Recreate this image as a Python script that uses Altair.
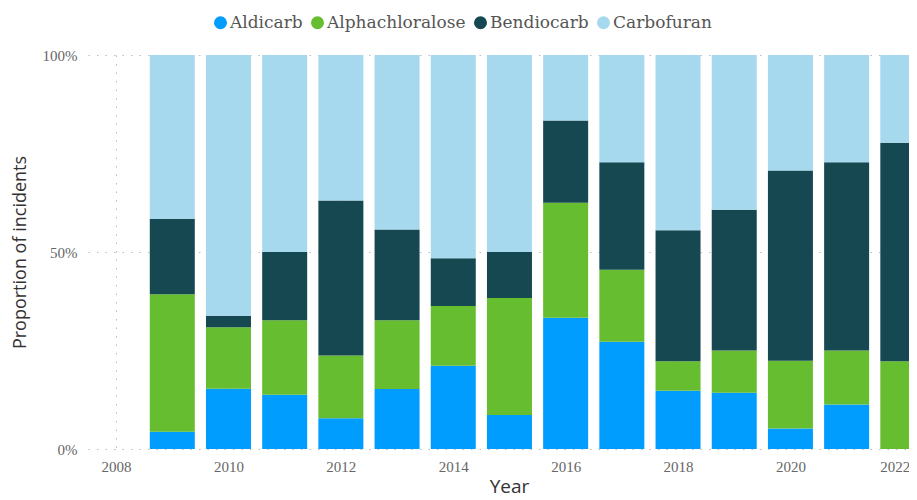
import altair as alt
import pandas as pd

years = list(range(2009, 2023))
compounds = ["Aldicarb", "Alphachloralose", "Bendiocarb", "Carbofuran"]
colors = ["#009DFF", "#66BD30", "#164852", "#A6D9ED"]

aldicarb = [4.4, 15.3, 13.8, 7.8, 15.2, 21.1, 8.6, 33.3, 27.2, 14.8, 14.3, 5.2, 11.3, 0.0]
alphachloralose = [34.9, 15.6, 18.9, 15.9, 17.5, 15.2, 29.7, 29.2, 18.3, 7.5, 10.7, 17.2, 13.7, 22.3]
bendiocarb = [19.1, 2.9, 17.3, 39.4, 23.0, 12.1, 11.7, 20.9, 27.3, 33.2, 35.7, 48.3, 47.8, 55.4]
carbofuran = [41.6, 66.2, 50.0, 36.9, 44.3, 51.6, 50.0, 16.6, 27.2, 44.5, 39.3, 29.3, 27.2, 22.3]

x_ticks = [2008, 2010, 2012, 2014, 2016, 2018, 2020, 2022]

rows = []
for name, vals in zip(compounds, [aldicarb, alphachloralose, bendiocarb, carbofuran]):
    for y, v in zip(years, vals):
        rows.append({"Year": y, "Compound": name, "Value": v})
df = pd.DataFrame(rows)

grid_dash = [1.5, 7]

chart = alt.Chart(df).mark_bar(size=45, clip=True).encode(
    x=alt.X("Year:Q",
            scale=alt.Scale(domain=[2007.5, 2022.11], nice=False, zero=False, padding=0),
            axis=alt.Axis(values=x_ticks, format="d", title="Year", grid=True,
                          gridDash=grid_dash, gridColor="#bbbbbb", domain=False, ticks=False,
                          labelFont="Liberation Serif", labelFontSize=15, labelColor="#666666",
                          labelPadding=10, labelOverlap=False, labelBound=False,
                          labelFlush=False,
                          labelOffset={"condition": {"test": "datum.value == 2022", "value": -8},
                                       "value": 0},
                          titleFont="Open Sans", titleFontSize=19,
                          titleFontWeight="normal", titleColor="#333333", titlePadding=3,
                          titleX=421)),
    y=alt.Y("Value:Q", stack="normalize",
            axis=alt.Axis(values=[0, 0.5, 1], format="%", title="Proportion of incidents",
                          grid=True, gridDash=grid_dash, gridColor="#bbbbbb", domain=False,
                          ticks=False, labelFont="Liberation Serif", labelFontSize=15,
                          labelColor="#666666", labelPadding=11, titleFont="Open Sans",
                          titleFontSize=18, titleFontWeight="normal", titleColor="#333333",
                          titlePadding=13)),
    color=alt.Color("Compound:N",
                    scale=alt.Scale(domain=compounds, range=colors),
                    legend=alt.Legend(title=None, orient="none", legendX=124, legendY=-41,
                                      direction="horizontal", symbolType="circle",
                                      symbolSize=170, symbolStrokeWidth=0,
                                      labelFont="DejaVu Serif", labelFontSize=17,
                                      labelColor="#555555", labelOffset=1,
                                      columnPadding=6, padding=0)),
    order=alt.Order("Compound:N", sort="ascending"),
).properties(
    width=821,
    height=394,
    autosize=alt.AutoSizeParams(type="none"),
    padding={"left": 80, "top": 47, "right": 0, "bottom": 50},
).configure_view(stroke=None)

chart.save("out.html", embed_options={"renderer": "svg", "actions": False})
